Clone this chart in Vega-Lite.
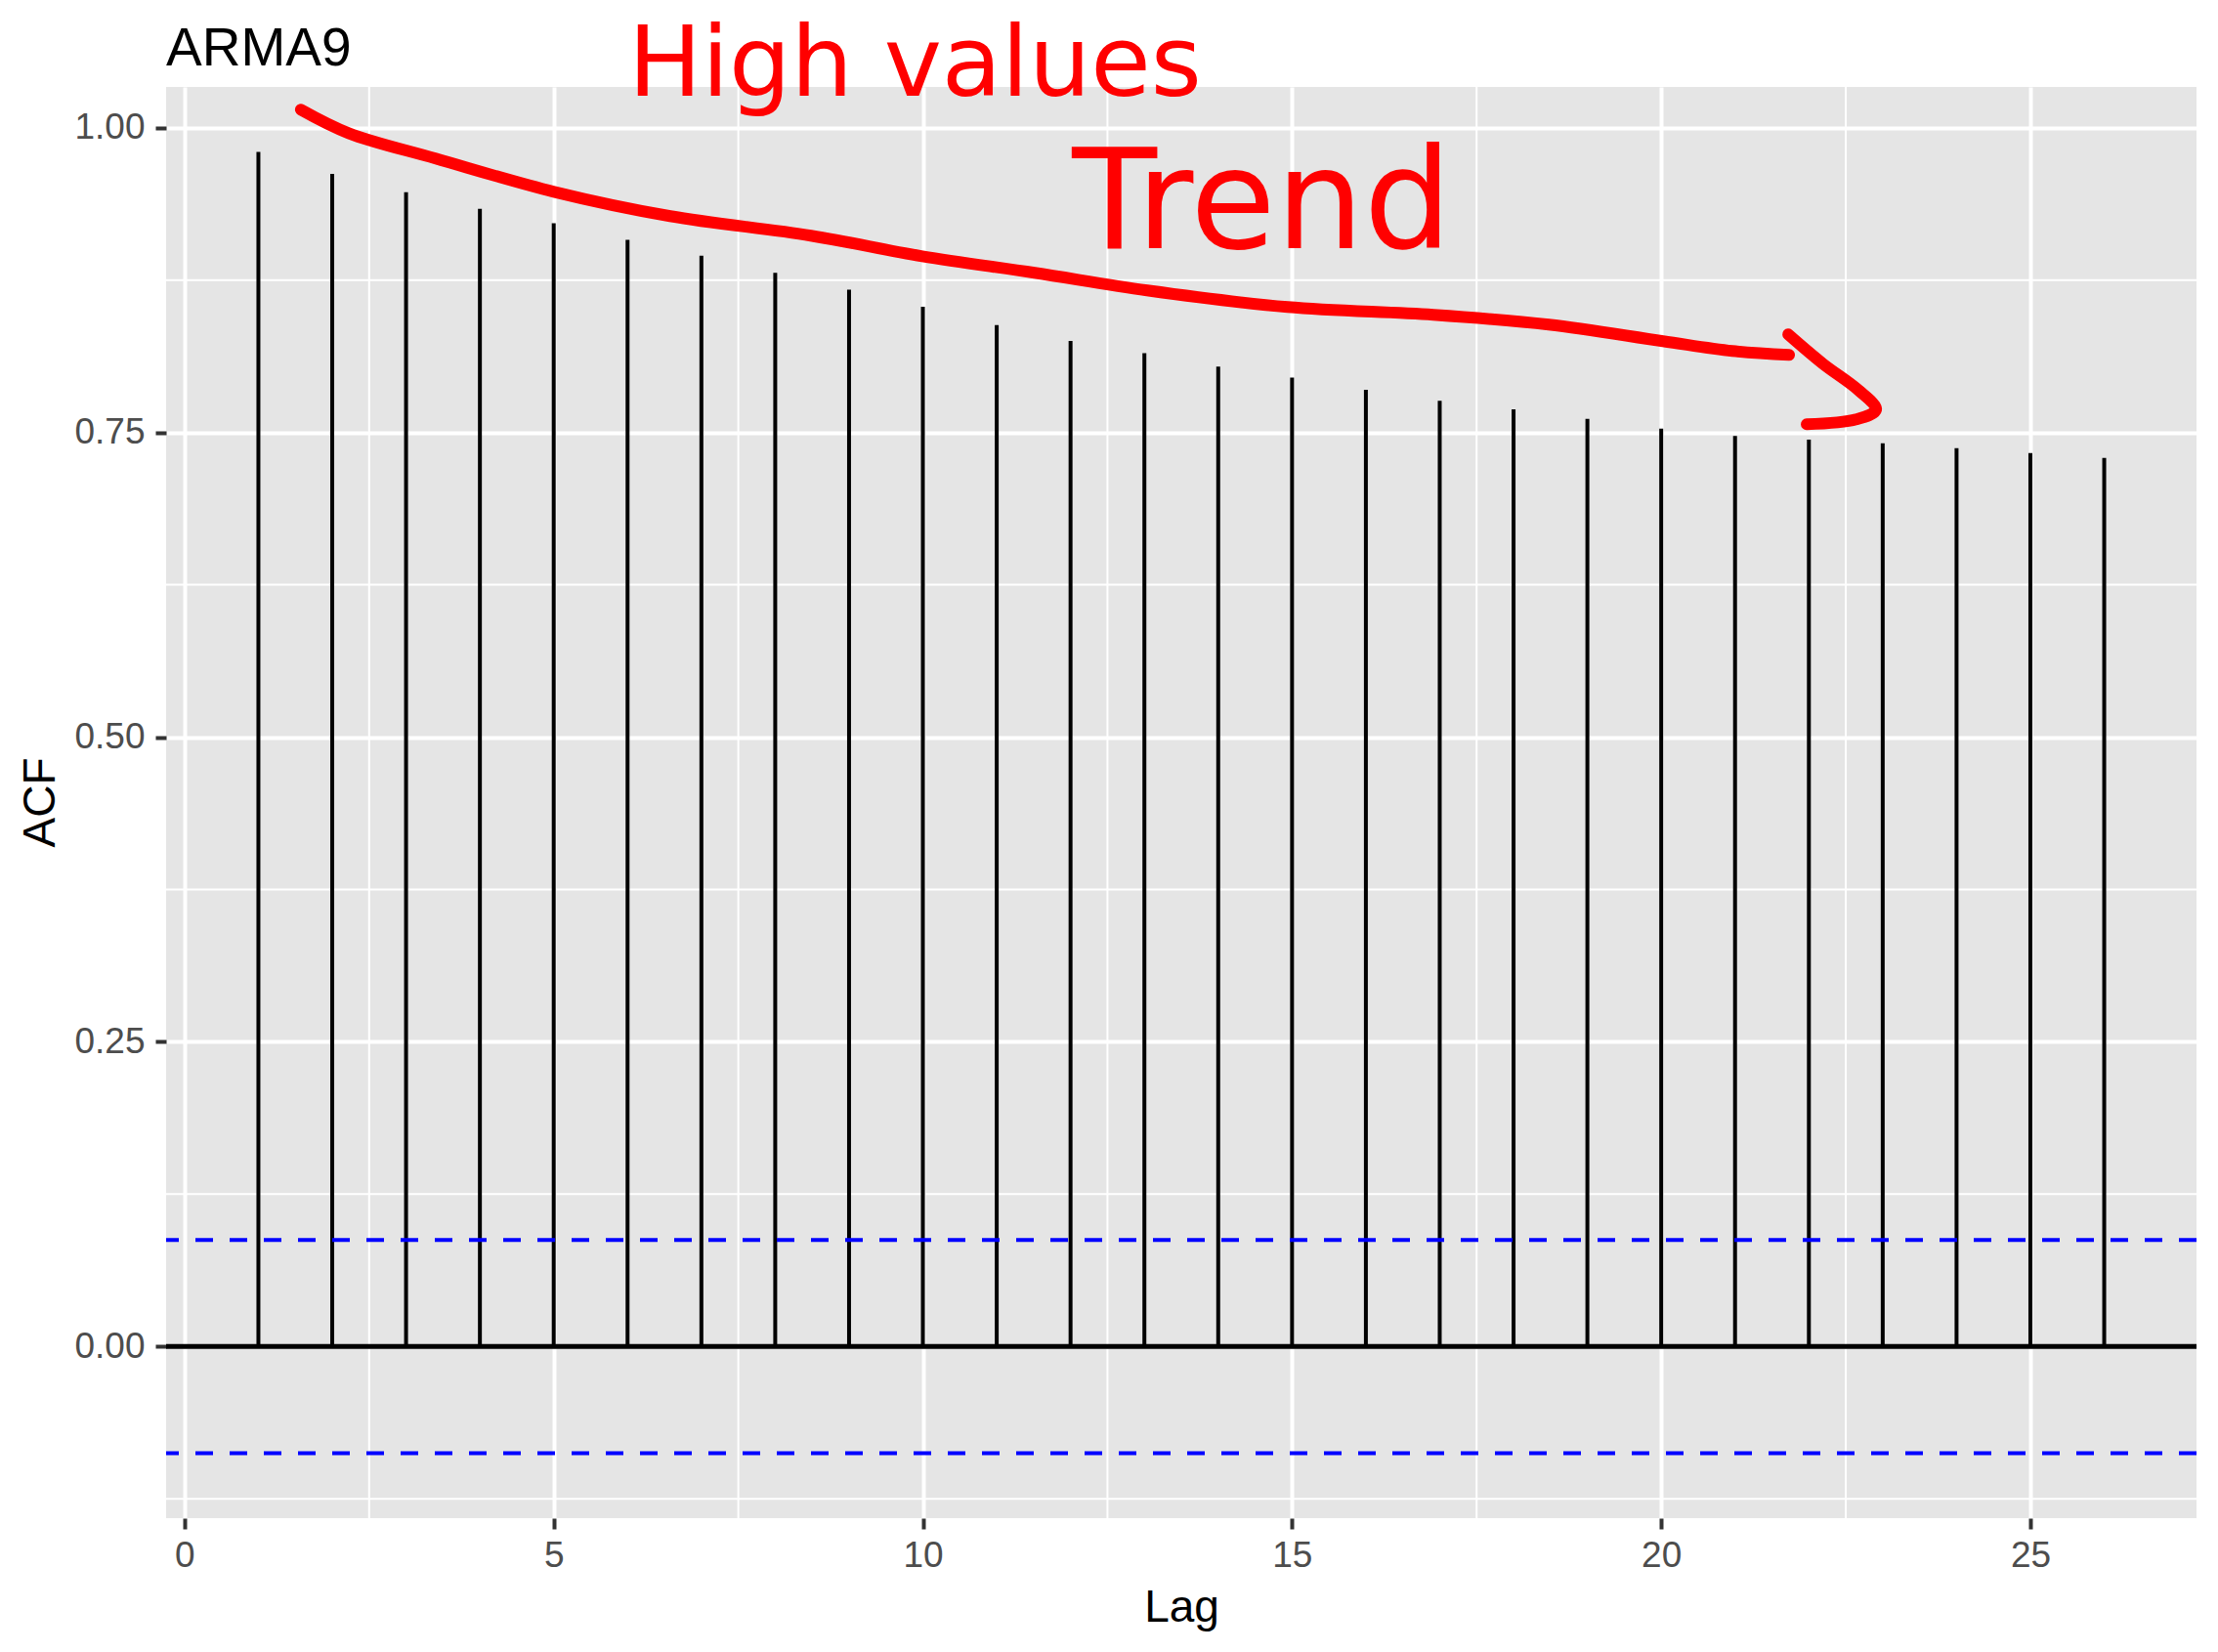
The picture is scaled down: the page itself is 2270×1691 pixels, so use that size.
{
  "$schema": "https://vega.github.io/schema/vega-lite/v6.json",
  "autosize": {"type": "none"},
  "padding": {"left": 170, "top": 89, "right": 22, "bottom": 137},
  "width": 2078,
  "height": 1465,
  "background": "white",
  "title": {
    "text": "ARMA9",
    "anchor": "start",
    "frame": "group",
    "baseline": "alphabetic",
    "offset": -104,
    "font": "Liberation Sans",
    "fontSize": 55,
    "fontWeight": "normal",
    "color": "black"
  },
  "datasets": {
    "acf": [
      {"lag": 1, "acf": 0.980},
      {"lag": 2, "acf": 0.962},
      {"lag": 3, "acf": 0.947},
      {"lag": 4, "acf": 0.9335},
      {"lag": 5, "acf": 0.9215},
      {"lag": 6, "acf": 0.908},
      {"lag": 7, "acf": 0.895},
      {"lag": 8, "acf": 0.881},
      {"lag": 9, "acf": 0.867},
      {"lag": 10, "acf": 0.853},
      {"lag": 11, "acf": 0.838},
      {"lag": 12, "acf": 0.825},
      {"lag": 13, "acf": 0.815},
      {"lag": 14, "acf": 0.804},
      {"lag": 15, "acf": 0.795},
      {"lag": 16, "acf": 0.785},
      {"lag": 17, "acf": 0.776},
      {"lag": 18, "acf": 0.769},
      {"lag": 19, "acf": 0.761},
      {"lag": 20, "acf": 0.753},
      {"lag": 21, "acf": 0.747},
      {"lag": 22, "acf": 0.744},
      {"lag": 23, "acf": 0.741},
      {"lag": 24, "acf": 0.737},
      {"lag": 25, "acf": 0.733},
      {"lag": 26, "acf": 0.729}
    ],
    "minor_x": [{"lag": 2.5}, {"lag": 7.5}, {"lag": 12.5}, {"lag": 17.5}, {"lag": 22.5}],
    "minor_y": [{"acf": -0.125}, {"acf": 0.125}, {"acf": 0.375}, {"acf": 0.625}, {"acf": 0.875}],
    "bounds": [{"acf": 0.0874}, {"acf": -0.0874}],
    "zero": [{"acf": 0}],
    "scribble": [
      {"part": "trend", "i": 1, "lag": 1.575, "acf": 1.0148},
      {"part": "trend", "i": 2, "lag": 2.223, "acf": 0.9955},
      {"part": "trend", "i": 3, "lag": 3.401, "acf": 0.9747},
      {"part": "trend", "i": 4, "lag": 5.003, "acf": 0.9474},
      {"part": "trend", "i": 5, "lag": 6.578, "acf": 0.9274},
      {"part": "trend", "i": 6, "lag": 8.483, "acf": 0.9114},
      {"part": "trend", "i": 7, "lag": 9.992, "acf": 0.8945},
      {"part": "trend", "i": 8, "lag": 11.514, "acf": 0.8809},
      {"part": "trend", "i": 9, "lag": 13.036, "acf": 0.8665},
      {"part": "trend", "i": 10, "lag": 14.942, "acf": 0.8528},
      {"part": "trend", "i": 11, "lag": 16.914, "acf": 0.8464},
      {"part": "trend", "i": 12, "lag": 18.476, "acf": 0.8384},
      {"part": "trend", "i": 13, "lag": 20.024, "acf": 0.8248},
      {"part": "trend", "i": 14, "lag": 20.964, "acf": 0.8168},
      {"part": "trend", "i": 15, "lag": 21.732, "acf": 0.8136},
      {"part": "head", "i": 1, "lag": 21.72, "acf": 0.8304},
      {"part": "head", "i": 2, "lag": 22.19, "acf": 0.8063},
      {"part": "head", "i": 3, "lag": 22.67, "acf": 0.7847},
      {"part": "head", "i": 4, "lag": 22.91, "acf": 0.7687},
      {"part": "head", "i": 5, "lag": 22.64, "acf": 0.7607},
      {"part": "head", "i": 6, "lag": 21.97, "acf": 0.7567}
    ],
    "notes": [
      {"note": "High values", "lag": 6.01, "acf": 1.026, "size": 100},
      {"note": "Trend", "lag": 12.02, "acf": 0.901, "size": 142}
    ]
  },
  "layer": [
    {
      "data": {"name": "minor_x"},
      "mark": {"type": "rule", "color": "white", "strokeWidth": 2},
      "encoding": {
        "x": {"field": "lag", "type": "quantitative"}
      }
    },
    {
      "data": {"name": "minor_y"},
      "mark": {"type": "rule", "color": "white", "strokeWidth": 2},
      "encoding": {
        "y": {"field": "acf", "type": "quantitative"}
      }
    },
    {
      "data": {"name": "acf"},
      "mark": {"type": "rule", "color": "black", "strokeWidth": 4},
      "encoding": {
        "x": {
          "field": "lag",
          "type": "quantitative",
          "scale": {"domain": [-0.25, 27.25], "nice": false, "zero": false},
          "axis": {
            "title": "Lag",
            "values": [0, 5, 10, 15, 20, 25],
            "format": "d",
            "grid": true,
            "gridColor": "white",
            "gridWidth": 4,
            "domain": false,
            "ticks": true,
            "tickColor": "#333333",
            "tickSize": 11,
            "tickWidth": 4,
            "labelFont": "Liberation Sans",
            "labelFontSize": 37,
            "labelColor": "#4D4D4D",
            "labelBaseline": "alphabetic",
            "labelPadding": 38,
            "labelFlush": false,
            "labelOverlap": false,
            "titleFont": "Liberation Sans",
            "titleFontSize": 46,
            "titleFontWeight": "normal",
            "titleColor": "black",
            "titleBaseline": "alphabetic",
            "titleAlign": "center",
            "titleX": 1039,
            "titleY": 105
          }
        },
        "y": {
          "field": "acf",
          "type": "quantitative",
          "scale": {"domain": [-0.1408, 1.0334], "nice": false, "zero": false},
          "axis": {
            "title": "ACF",
            "values": [0, 0.25, 0.5, 0.75, 1],
            "format": ".2f",
            "grid": true,
            "gridColor": "white",
            "gridWidth": 4,
            "domain": false,
            "tickColor": "#333333",
            "tickSize": 11,
            "tickWidth": 4,
            "labelFont": "Liberation Sans",
            "labelFontSize": 37,
            "labelColor": "#4D4D4D",
            "labelPadding": 11,
            "labelFlush": false,
            "labelOverlap": false,
            "titleFont": "Liberation Sans",
            "titleFontSize": 46,
            "titleFontWeight": "normal",
            "titleColor": "black",
            "titleAngle": -90,
            "titleBaseline": "alphabetic",
            "titleAlign": "center",
            "titleX": -115,
            "titleY": 732
          }
        },
        "y2": {"datum": 0}
      }
    },
    {
      "data": {"name": "zero"},
      "mark": {"type": "rule", "color": "black", "strokeWidth": 5},
      "encoding": {
        "y": {"field": "acf", "type": "quantitative"}
      }
    },
    {
      "data": {"name": "bounds"},
      "mark": {"type": "rule", "color": "#0000FF", "strokeWidth": 4, "strokeDash": [18, 17]},
      "encoding": {
        "y": {"field": "acf", "type": "quantitative"}
      }
    },
    {
      "data": {"name": "scribble"},
      "mark": {"type": "line", "color": "#FF0000", "strokeWidth": 12, "strokeCap": "round", "strokeJoin": "round", "interpolate": "catmull-rom", "clip": false},
      "encoding": {
        "x": {"field": "lag", "type": "quantitative"},
        "y": {"field": "acf", "type": "quantitative"},
        "detail": {"field": "part"},
        "order": {"field": "i", "type": "quantitative"}
      }
    },
    {
      "data": {"name": "notes"},
      "mark": {"type": "text", "color": "#FF0000", "font": "DejaVu Sans", "align": "left", "baseline": "alphabetic"},
      "encoding": {
        "x": {"field": "lag", "type": "quantitative"},
        "y": {"field": "acf", "type": "quantitative"},
        "text": {"field": "note"},
        "size": {"field": "size", "type": "quantitative", "scale": null, "legend": null}
      }
    }
  ],
  "config": {
    "view": {"fill": "#E5E5E5", "stroke": null},
    "axis": {"grid": false}
  }
}
